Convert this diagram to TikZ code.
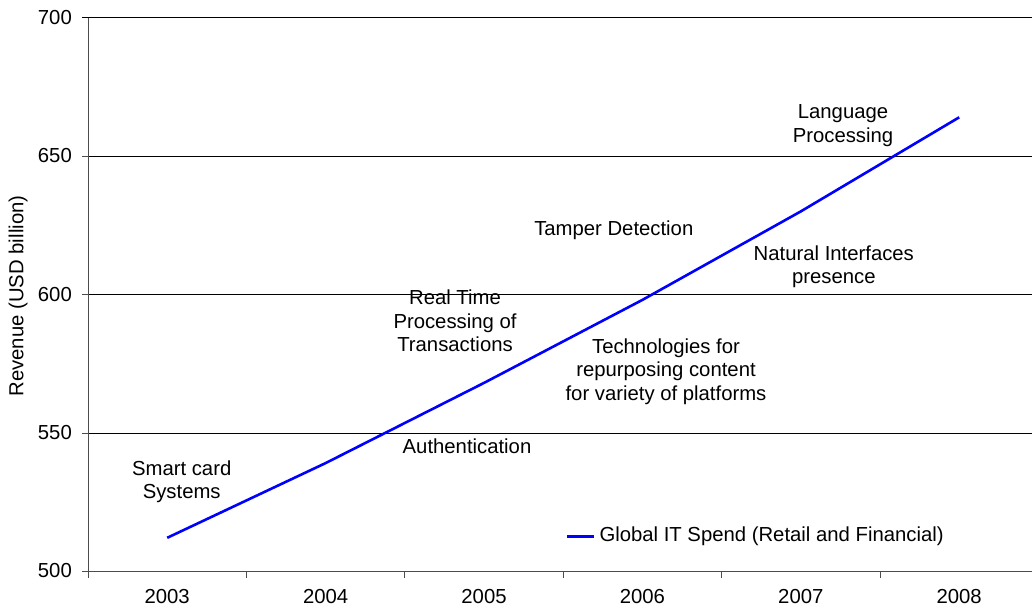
\documentclass[tikz,border=0pt]{standalone}
\usepackage{fontspec}
\setmainfont{Liberation Sans}
\begin{document}
\begin{tikzpicture}[x=1pt,y=-1pt,
  every node/.style={font=\fontsize{20.3}{23.5}\selectfont, inner sep=0pt, text=black},
  lbl/.style={align=center},
  grid/.style={draw=black, line width=0.9pt},
  axis/.style={draw=black!70, line width=0.9pt},
  series/.style={draw=blue, line width=2.6pt},
  ytick/.style={anchor=east},
]
\useasboundingbox (0,0) rectangle (1032,612);
\begin{scope}
\clip (0,0) rectangle (1032,612);
% gridlines
\foreach \yy in {17.7,156,294.3,433} {\draw[grid] (82,\yy) -- (1040,\yy);}
% axes
\draw[axis] (88,17.7) -- (88,577.5);
\draw[axis] (82,571) -- (1040,571);
\foreach \yy in {156,294.3,433} {\draw[axis] (82,\yy) -- (88,\yy);}
\foreach \xx in {246.4,404.8,563.2,721.6,880} {\draw[axis] (\xx,571) -- (\xx,577.5);}
\end{scope}
% y tick labels
\node[ytick] (y700) at (72,17.7) {700};
\node[ytick] (y650) at (72,156) {650};
\node[ytick] (y600) at (72,294.3) {600};
\node[ytick] (y550) at (72,433) {550};
\node[ytick] (y500) at (72,571) {500};
% x labels
\node (x2003) at (167.2,597) {2003};
\node (x2004) at (325.6,597) {2004};
\node (x2005) at (484,597) {2005};
\node (x2006) at (642.4,597) {2006};
\node (x2007) at (800.8,597) {2007};
\node (x2008) at (959.2,597) {2008};
% axis title
\node[rotate=90] (ytitle) at (18,296) {Revenue (USD billion)};
% data
\coordinate (p3) at (167.2,537.8);
\coordinate (p4) at (325.6,463.1);
\coordinate (p5) at (484,382.9);
\coordinate (p6) at (642.4,299.9);
\coordinate (p7) at (800.8,211.4);
\coordinate (p8) at (959.2,117.3);
\draw[series] (p3) -- (p4) -- (p5) -- (p6) -- (p7) -- (p8);
% annotations
\node[lbl] (smart) at (181.7,481.5) {Smart card\\Systems};
\node[lbl] (auth) at (467,446) {Authentication};
\node[lbl] (rtp) at (455,321) {Real Time\\Processing of\\Transactions};
\node[lbl] (tamper) at (613.8,230.7) {Tamper Detection};
\node[lbl] (tech) at (666,371.5) {Technologies for\\repurposing content\\for variety of platforms};
\node[lbl] (nat) at (833.8,266.7) {Natural Interfaces\\presence};
\node[lbl] (lang) at (843,125.5) {Language\\Processing};
% legend
\coordinate (lg1) at (566.7,536.7);
\coordinate (lg2) at (594.3,536.7);
\draw[series] (lg1) -- (lg2);
\node[anchor=west] (legend) at (599.3,536.7) {Global IT Spend (Retail and Financial)};
\end{tikzpicture}
\end{document}
